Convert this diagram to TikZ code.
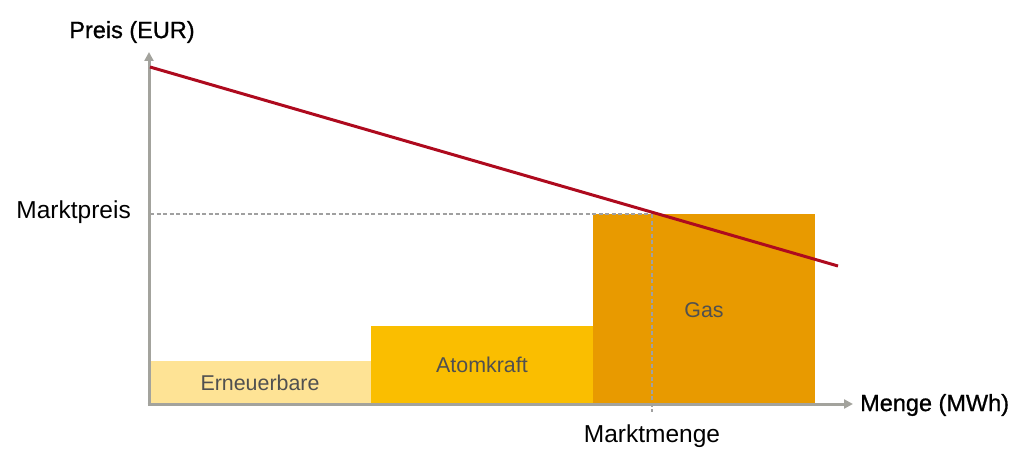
\documentclass[tikz,border=0pt]{standalone}
\usepackage{fontspec}
\setmainfont{Liberation Sans}
\newfontfamily\medfont[FakeBold=0.9]{Liberation Sans}
\usetikzlibrary{arrows.meta}
\definecolor{axisgray}{HTML}{A3A39D}
\definecolor{dashgray}{HTML}{A0A0A0}
\definecolor{erncol}{HTML}{FEE395}
\definecolor{atomcol}{HTML}{FABE00}
\definecolor{gascol}{HTML}{E89A00}
\definecolor{demandred}{HTML}{AE0A1E}
\definecolor{bartext}{HTML}{505050}
\tikzset{
  axisline/.style={draw=axisgray, line width=3pt, -{Triangle[length=9pt,width=9pt]}},
  bartitle/.style={text=bartext, font=\fontsize{21.4}{25}\selectfont, inner sep=0pt},
  axistitle/.style={text=black, font=\medfont\fontsize{23.5}{27}\selectfont, inner sep=0pt},
  ticklabel/.style={text=black, font=\fontsize{24.5}{28}\selectfont, inner sep=0pt},
  guide/.style={draw=dashgray, line width=1.3pt, dash pattern=on 4pt off 2.5pt},
  demand/.style={draw=demandred, line width=3pt}
}
\begin{document}
\begin{tikzpicture}[x=1pt,y=-1pt]
\useasboundingbox (0,0) rectangle (1026,460);
% bars
\fill[erncol] (150,361) rectangle (371,404);
\fill[atomcol] (371,326) rectangle (593,404);
\fill[gascol] (593,214) rectangle (815,404);
\node[bartitle] (ern) at (260,383) {Erneuerbare};
\node[bartitle] (atom) at (482,365) {Atomkraft};
\node[bartitle] (gas) at (704,310) {Gas};
% coordinates
\coordinate (o) at (149,404);
\coordinate (ytip) at (149,52);
\coordinate (xtip) at (853,404);
\coordinate (eq) at (652,214);
\coordinate (pleft) at (150,214);
\coordinate (qbot) at (652,412);
\coordinate (d1) at (150,67);
\coordinate (d2) at (838,266);
% guides
\draw[guide] (pleft) -- (eq);
\draw[guide] (eq) -- (qbot);
% axes
\draw[axisline] (o) -- (ytip);
\draw[axisline] ([xshift=-1.5pt]o) -- (xtip);
% demand
\draw[demand] (d1) -- (d2);
% labels
\node[axistitle] (ptitle) at (132,32) {Preis (EUR)};
\node[axistitle, anchor=west] (qtitle) at (860,405) {Menge (MWh)};
\node[ticklabel, anchor=east] (mp) at (131,212) {Marktpreis};
\node[ticklabel] (mm) at (652,436) {Marktmenge};
\end{tikzpicture}
\end{document}
